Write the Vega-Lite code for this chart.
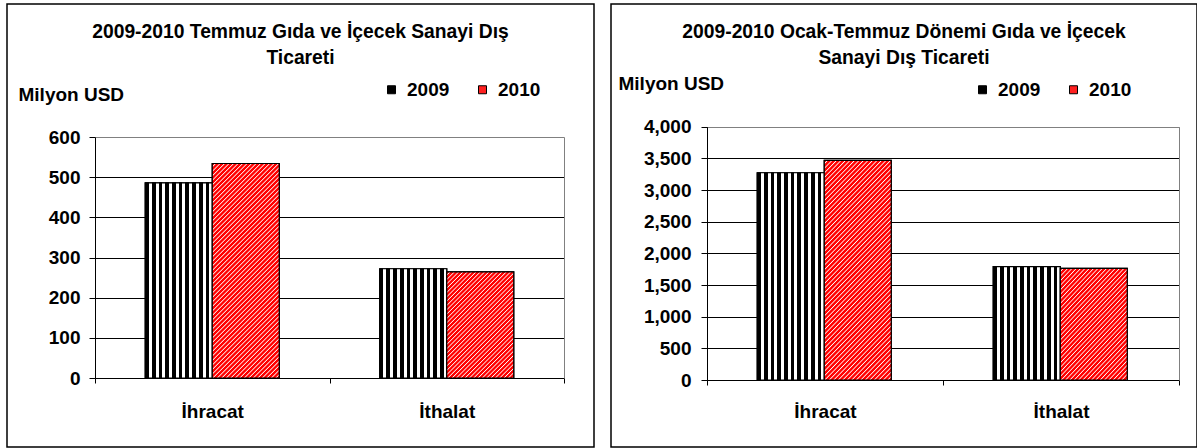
{
  "$schema": "https://vega.github.io/schema/vega-lite/v6.json",
  "padding": {"left": 6, "top": 3, "right": 0, "bottom": 0},
  "background": "white",
  "params": [
    {"name": "gV", "value": {"gradient": "linear", "x1": 0, "y1": 0, "x2": 1, "y2": 0, "stops": [
      {"offset": 0, "color": "#000"}, {"offset": 0.055, "color": "#000"}, {"offset": 0.055, "color": "#fff"}, {"offset": 0.1, "color": "#fff"},
      {"offset": 0.1, "color": "#000"}, {"offset": 0.155, "color": "#000"}, {"offset": 0.155, "color": "#fff"}, {"offset": 0.2, "color": "#fff"},
      {"offset": 0.2, "color": "#000"}, {"offset": 0.255, "color": "#000"}, {"offset": 0.255, "color": "#fff"}, {"offset": 0.3, "color": "#fff"},
      {"offset": 0.3, "color": "#000"}, {"offset": 0.355, "color": "#000"}, {"offset": 0.355, "color": "#fff"}, {"offset": 0.4, "color": "#fff"},
      {"offset": 0.4, "color": "#000"}, {"offset": 0.455, "color": "#000"}, {"offset": 0.455, "color": "#fff"}, {"offset": 0.5, "color": "#fff"},
      {"offset": 0.5, "color": "#000"}, {"offset": 0.555, "color": "#000"}, {"offset": 0.555, "color": "#fff"}, {"offset": 0.6, "color": "#fff"},
      {"offset": 0.6, "color": "#000"}, {"offset": 0.655, "color": "#000"}, {"offset": 0.655, "color": "#fff"}, {"offset": 0.7, "color": "#fff"},
      {"offset": 0.7, "color": "#000"}, {"offset": 0.755, "color": "#000"}, {"offset": 0.755, "color": "#fff"}, {"offset": 0.8, "color": "#fff"},
      {"offset": 0.8, "color": "#000"}, {"offset": 0.855, "color": "#000"}, {"offset": 0.855, "color": "#fff"}, {"offset": 0.9, "color": "#fff"},
      {"offset": 0.9, "color": "#000"}, {"offset": 0.955, "color": "#000"}, {"offset": 0.955, "color": "#fff"}, {"offset": 1, "color": "#fff"}
    ]}},
    {"name": "gT", "value": {"gradient": "linear", "x1": 0, "y1": 0, "x2": 0.3735, "y2": 1.1957, "stops": [
      {"offset": 0, "color": "red"}, {"offset": 0.008, "color": "red"}, {"offset": 0.012, "color": "white"},
      {"offset": 0.016, "color": "red"}, {"offset": 0.024, "color": "red"}, {"offset": 0.028, "color": "white"},
      {"offset": 0.032, "color": "red"}, {"offset": 0.04, "color": "red"}, {"offset": 0.044, "color": "white"},
      {"offset": 0.048, "color": "red"}, {"offset": 0.056, "color": "red"}, {"offset": 0.06, "color": "white"},
      {"offset": 0.064, "color": "red"}, {"offset": 0.072, "color": "red"}, {"offset": 0.076, "color": "white"},
      {"offset": 0.08, "color": "red"}, {"offset": 0.088, "color": "red"}, {"offset": 0.092, "color": "white"},
      {"offset": 0.096, "color": "red"}, {"offset": 0.104, "color": "red"}, {"offset": 0.108, "color": "white"},
      {"offset": 0.112, "color": "red"}, {"offset": 0.12, "color": "red"}, {"offset": 0.124, "color": "white"},
      {"offset": 0.128, "color": "red"}, {"offset": 0.136, "color": "red"}, {"offset": 0.14, "color": "white"},
      {"offset": 0.144, "color": "red"}, {"offset": 0.152, "color": "red"}, {"offset": 0.156, "color": "white"},
      {"offset": 0.16, "color": "red"}, {"offset": 0.168, "color": "red"}, {"offset": 0.172, "color": "white"},
      {"offset": 0.176, "color": "red"}, {"offset": 0.184, "color": "red"}, {"offset": 0.188, "color": "white"},
      {"offset": 0.192, "color": "red"}, {"offset": 0.2, "color": "red"}, {"offset": 0.204, "color": "white"},
      {"offset": 0.208, "color": "red"}, {"offset": 0.216, "color": "red"}, {"offset": 0.22, "color": "white"},
      {"offset": 0.224, "color": "red"}, {"offset": 0.232, "color": "red"}, {"offset": 0.236, "color": "white"},
      {"offset": 0.24, "color": "red"}, {"offset": 0.248, "color": "red"}, {"offset": 0.252, "color": "white"},
      {"offset": 0.256, "color": "red"}, {"offset": 0.264, "color": "red"}, {"offset": 0.268, "color": "white"},
      {"offset": 0.272, "color": "red"}, {"offset": 0.28, "color": "red"}, {"offset": 0.284, "color": "white"},
      {"offset": 0.288, "color": "red"}, {"offset": 0.296, "color": "red"}, {"offset": 0.3, "color": "white"},
      {"offset": 0.304, "color": "red"}, {"offset": 0.312, "color": "red"}, {"offset": 0.316, "color": "white"},
      {"offset": 0.32, "color": "red"}, {"offset": 0.328, "color": "red"}, {"offset": 0.332, "color": "white"},
      {"offset": 0.336, "color": "red"}, {"offset": 0.344, "color": "red"}, {"offset": 0.348, "color": "white"},
      {"offset": 0.352, "color": "red"}, {"offset": 0.36, "color": "red"}, {"offset": 0.364, "color": "white"},
      {"offset": 0.368, "color": "red"}, {"offset": 0.376, "color": "red"}, {"offset": 0.38, "color": "white"},
      {"offset": 0.384, "color": "red"}, {"offset": 0.392, "color": "red"}, {"offset": 0.396, "color": "white"},
      {"offset": 0.4, "color": "red"}, {"offset": 0.408, "color": "red"}, {"offset": 0.412, "color": "white"},
      {"offset": 0.416, "color": "red"}, {"offset": 0.424, "color": "red"}, {"offset": 0.428, "color": "white"},
      {"offset": 0.432, "color": "red"}, {"offset": 0.44, "color": "red"}, {"offset": 0.444, "color": "white"},
      {"offset": 0.448, "color": "red"}, {"offset": 0.456, "color": "red"}, {"offset": 0.46, "color": "white"},
      {"offset": 0.464, "color": "red"}, {"offset": 0.472, "color": "red"}, {"offset": 0.476, "color": "white"},
      {"offset": 0.48, "color": "red"}, {"offset": 0.488, "color": "red"}, {"offset": 0.492, "color": "white"},
      {"offset": 0.496, "color": "red"}, {"offset": 0.504, "color": "red"}, {"offset": 0.508, "color": "white"},
      {"offset": 0.512, "color": "red"}, {"offset": 0.52, "color": "red"}, {"offset": 0.524, "color": "white"},
      {"offset": 0.528, "color": "red"}, {"offset": 0.536, "color": "red"}, {"offset": 0.54, "color": "white"},
      {"offset": 0.544, "color": "red"}, {"offset": 0.552, "color": "red"}, {"offset": 0.556, "color": "white"},
      {"offset": 0.56, "color": "red"}, {"offset": 0.568, "color": "red"}, {"offset": 0.572, "color": "white"},
      {"offset": 0.576, "color": "red"}, {"offset": 0.584, "color": "red"}, {"offset": 0.588, "color": "white"},
      {"offset": 0.592, "color": "red"}, {"offset": 0.6, "color": "red"}, {"offset": 0.604, "color": "white"},
      {"offset": 0.608, "color": "red"}, {"offset": 0.616, "color": "red"}, {"offset": 0.62, "color": "white"},
      {"offset": 0.624, "color": "red"}, {"offset": 0.632, "color": "red"}, {"offset": 0.636, "color": "white"},
      {"offset": 0.64, "color": "red"}, {"offset": 0.648, "color": "red"}, {"offset": 0.652, "color": "white"},
      {"offset": 0.656, "color": "red"}, {"offset": 0.664, "color": "red"}, {"offset": 0.668, "color": "white"},
      {"offset": 0.672, "color": "red"}, {"offset": 0.68, "color": "red"}, {"offset": 0.684, "color": "white"},
      {"offset": 0.688, "color": "red"}, {"offset": 0.696, "color": "red"}, {"offset": 0.7, "color": "white"},
      {"offset": 0.704, "color": "red"}, {"offset": 0.712, "color": "red"}, {"offset": 0.716, "color": "white"},
      {"offset": 0.72, "color": "red"}, {"offset": 0.728, "color": "red"}, {"offset": 0.732, "color": "white"},
      {"offset": 0.736, "color": "red"}, {"offset": 0.744, "color": "red"}, {"offset": 0.748, "color": "white"},
      {"offset": 0.752, "color": "red"}, {"offset": 0.76, "color": "red"}, {"offset": 0.764, "color": "white"},
      {"offset": 0.768, "color": "red"}, {"offset": 0.776, "color": "red"}, {"offset": 0.78, "color": "white"},
      {"offset": 0.784, "color": "red"}, {"offset": 0.792, "color": "red"}, {"offset": 0.796, "color": "white"},
      {"offset": 0.8, "color": "red"}, {"offset": 0.808, "color": "red"}, {"offset": 0.812, "color": "white"},
      {"offset": 0.816, "color": "red"}, {"offset": 0.824, "color": "red"}, {"offset": 0.828, "color": "white"},
      {"offset": 0.832, "color": "red"}, {"offset": 0.84, "color": "red"}, {"offset": 0.844, "color": "white"},
      {"offset": 0.848, "color": "red"}, {"offset": 0.856, "color": "red"}, {"offset": 0.86, "color": "white"},
      {"offset": 0.864, "color": "red"}, {"offset": 0.872, "color": "red"}, {"offset": 0.876, "color": "white"},
      {"offset": 0.88, "color": "red"}, {"offset": 0.888, "color": "red"}, {"offset": 0.892, "color": "white"},
      {"offset": 0.896, "color": "red"}, {"offset": 0.904, "color": "red"}, {"offset": 0.908, "color": "white"},
      {"offset": 0.912, "color": "red"}, {"offset": 0.92, "color": "red"}, {"offset": 0.924, "color": "white"},
      {"offset": 0.928, "color": "red"}, {"offset": 0.936, "color": "red"}, {"offset": 0.94, "color": "white"},
      {"offset": 0.944, "color": "red"}, {"offset": 0.952, "color": "red"}, {"offset": 0.956, "color": "white"},
      {"offset": 0.96, "color": "red"}, {"offset": 0.968, "color": "red"}, {"offset": 0.972, "color": "white"},
      {"offset": 0.976, "color": "red"}, {"offset": 0.984, "color": "red"}, {"offset": 0.988, "color": "white"},
      {"offset": 0.992, "color": "red"}, {"offset": 1, "color": "red"}
    ]}},
    {"name": "gS", "value": {"gradient": "linear", "x1": 0, "y1": 0, "x2": 0.7371, "y2": 1.1662, "stops": [
      {"offset": 0, "color": "red"}, {"offset": 0.0125, "color": "red"}, {"offset": 0.01875, "color": "white"},
      {"offset": 0.025, "color": "red"}, {"offset": 0.0375, "color": "red"}, {"offset": 0.04375, "color": "white"},
      {"offset": 0.05, "color": "red"}, {"offset": 0.0625, "color": "red"}, {"offset": 0.06875, "color": "white"},
      {"offset": 0.075, "color": "red"}, {"offset": 0.0875, "color": "red"}, {"offset": 0.09375, "color": "white"},
      {"offset": 0.1, "color": "red"}, {"offset": 0.1125, "color": "red"}, {"offset": 0.11875, "color": "white"},
      {"offset": 0.125, "color": "red"}, {"offset": 0.1375, "color": "red"}, {"offset": 0.14375, "color": "white"},
      {"offset": 0.15, "color": "red"}, {"offset": 0.1625, "color": "red"}, {"offset": 0.16875, "color": "white"},
      {"offset": 0.175, "color": "red"}, {"offset": 0.1875, "color": "red"}, {"offset": 0.19375, "color": "white"},
      {"offset": 0.2, "color": "red"}, {"offset": 0.2125, "color": "red"}, {"offset": 0.21875, "color": "white"},
      {"offset": 0.225, "color": "red"}, {"offset": 0.2375, "color": "red"}, {"offset": 0.24375, "color": "white"},
      {"offset": 0.25, "color": "red"}, {"offset": 0.2625, "color": "red"}, {"offset": 0.26875, "color": "white"},
      {"offset": 0.275, "color": "red"}, {"offset": 0.2875, "color": "red"}, {"offset": 0.29375, "color": "white"},
      {"offset": 0.3, "color": "red"}, {"offset": 0.3125, "color": "red"}, {"offset": 0.31875, "color": "white"},
      {"offset": 0.325, "color": "red"}, {"offset": 0.3375, "color": "red"}, {"offset": 0.34375, "color": "white"},
      {"offset": 0.35, "color": "red"}, {"offset": 0.3625, "color": "red"}, {"offset": 0.36875, "color": "white"},
      {"offset": 0.375, "color": "red"}, {"offset": 0.3875, "color": "red"}, {"offset": 0.39375, "color": "white"},
      {"offset": 0.4, "color": "red"}, {"offset": 0.4125, "color": "red"}, {"offset": 0.41875, "color": "white"},
      {"offset": 0.425, "color": "red"}, {"offset": 0.4375, "color": "red"}, {"offset": 0.44375, "color": "white"},
      {"offset": 0.45, "color": "red"}, {"offset": 0.4625, "color": "red"}, {"offset": 0.46875, "color": "white"},
      {"offset": 0.475, "color": "red"}, {"offset": 0.4875, "color": "red"}, {"offset": 0.49375, "color": "white"},
      {"offset": 0.5, "color": "red"}, {"offset": 0.5125, "color": "red"}, {"offset": 0.51875, "color": "white"},
      {"offset": 0.525, "color": "red"}, {"offset": 0.5375, "color": "red"}, {"offset": 0.54375, "color": "white"},
      {"offset": 0.55, "color": "red"}, {"offset": 0.5625, "color": "red"}, {"offset": 0.56875, "color": "white"},
      {"offset": 0.575, "color": "red"}, {"offset": 0.5875, "color": "red"}, {"offset": 0.59375, "color": "white"},
      {"offset": 0.6, "color": "red"}, {"offset": 0.6125, "color": "red"}, {"offset": 0.61875, "color": "white"},
      {"offset": 0.625, "color": "red"}, {"offset": 0.6375, "color": "red"}, {"offset": 0.64375, "color": "white"},
      {"offset": 0.65, "color": "red"}, {"offset": 0.6625, "color": "red"}, {"offset": 0.66875, "color": "white"},
      {"offset": 0.675, "color": "red"}, {"offset": 0.6875, "color": "red"}, {"offset": 0.69375, "color": "white"},
      {"offset": 0.7, "color": "red"}, {"offset": 0.7125, "color": "red"}, {"offset": 0.71875, "color": "white"},
      {"offset": 0.725, "color": "red"}, {"offset": 0.7375, "color": "red"}, {"offset": 0.74375, "color": "white"},
      {"offset": 0.75, "color": "red"}, {"offset": 0.7625, "color": "red"}, {"offset": 0.76875, "color": "white"},
      {"offset": 0.775, "color": "red"}, {"offset": 0.7875, "color": "red"}, {"offset": 0.79375, "color": "white"},
      {"offset": 0.8, "color": "red"}, {"offset": 0.8125, "color": "red"}, {"offset": 0.81875, "color": "white"},
      {"offset": 0.825, "color": "red"}, {"offset": 0.8375, "color": "red"}, {"offset": 0.84375, "color": "white"},
      {"offset": 0.85, "color": "red"}, {"offset": 0.8625, "color": "red"}, {"offset": 0.86875, "color": "white"},
      {"offset": 0.875, "color": "red"}, {"offset": 0.8875, "color": "red"}, {"offset": 0.89375, "color": "white"},
      {"offset": 0.9, "color": "red"}, {"offset": 0.9125, "color": "red"}, {"offset": 0.91875, "color": "white"},
      {"offset": 0.925, "color": "red"}, {"offset": 0.9375, "color": "red"}, {"offset": 0.94375, "color": "white"},
      {"offset": 0.95, "color": "red"}, {"offset": 0.9625, "color": "red"}, {"offset": 0.96875, "color": "white"},
      {"offset": 0.975, "color": "red"}, {"offset": 0.9875, "color": "red"}, {"offset": 0.99375, "color": "white"},
      {"offset": 1, "color": "red"}
    ]}}
  ],
  "datasets": {
    "d1": [
      {"cat": "İhracat", "year": "2009", "value": 486},
      {"cat": "İhracat", "year": "2010", "value": 534},
      {"cat": "İthalat", "year": "2009", "value": 272},
      {"cat": "İthalat", "year": "2010", "value": 264}
    ],
    "d2": [
      {"cat": "İhracat", "year": "2009", "value": 3273},
      {"cat": "İhracat", "year": "2010", "value": 3469},
      {"cat": "İthalat", "year": "2009", "value": 1789},
      {"cat": "İthalat", "year": "2010", "value": 1764}
    ]
  },
  "spacing": 15,
  "resolve": {"scale": {"color": "independent"}, "legend": {"color": "independent"}},
  "hconcat": [
    {
      "width": 587,
      "height": 443,
      "data": {"name": "d1"},
      "title": {"text": ["2009-2010 Temmuz Gıda ve İçecek Sanayi Dış", "Ticareti"], "offset": -64, "frame": "group"},
      "resolve": {"axis": {"y": "independent", "x": "independent"}},
      "layer": [
        {
          "mark": {"type": "bar", "stroke": "#000", "strokeWidth": 1.2},
          "encoding": {
            "x": {"field": "cat", "type": "nominal",
              "scale": {"domain": ["İhracat", "İthalat"], "range": [88, 557], "paddingInner": 0, "paddingOuter": 0},
              "axis": {"title": null, "offset": -69, "labelAngle": 0, "tickBand": "extent", "labelBaseline": "alphabetic", "labelPadding": 34, "grid": false}},
            "xOffset": {"field": "year", "type": "nominal", "scale": {"domain": ["2009", "2010"], "paddingInner": 0, "paddingOuter": 0.75}},
            "y": {"field": "value", "type": "quantitative",
              "scale": {"domain": [0, 600], "range": [374, 133], "nice": false, "zero": true},
              "axis": {"values": [0, 100, 200, 300, 400, 500, 600], "format": "d", "offset": -88,
                "title": "Milyon USD", "titleAngle": 0, "titleAlign": "left", "titleBaseline": "middle", "titleX": -77, "titleY": 90,
                "grid": true, "gridColor": {"condition": {"test": "datum.value === 600", "value": "#808080"}, "value": "#000"},
                "tickSize": 6, "labelPadding": 9}},
            "color": {"field": "year", "type": "nominal",
              "scale": {"domain": ["2009", "2010"], "range": ["#000000", "#ff2020"]},
              "legend": {"title": null, "orient": "none", "legendX": 375, "legendY": 76, "direction": "horizontal"}}
          }
        },
        {
          "mark": {"type": "bar", "stroke": "#000", "strokeWidth": 1.2,
            "fill": {"expr": "datum.year == '2009' ? gV : (datum.cat == 'İhracat' ? gT : gS)"}},
          "encoding": {
            "x": {"field": "cat", "type": "nominal", "axis": null},
            "xOffset": {"field": "year", "type": "nominal"},
            "y": {"field": "value", "type": "quantitative",
              "axis": {"orient": "right", "offset": -30, "labels": false, "ticks": false, "grid": false, "title": null, "domainColor": "#808080"}}
          }
        }
      ]
    },
    {
      "width": 586,
      "height": 443,
      "data": {"name": "d2"},
      "title": {"text": ["2009-2010 Ocak-Temmuz Dönemi Gıda ve İçecek", "Sanayi Dış Ticareti"], "offset": -64, "frame": "group"},
      "resolve": {"axis": {"y": "independent", "x": "independent"}},
      "layer": [
        {
          "mark": {"type": "bar", "stroke": "#000", "strokeWidth": 1.2},
          "encoding": {
            "x": {"field": "cat", "type": "nominal",
              "scale": {"domain": ["İhracat", "İthalat"], "range": [96, 568], "paddingInner": 0, "paddingOuter": 0},
              "axis": {"title": null, "offset": -67, "labelAngle": 0, "tickBand": "extent", "labelBaseline": "alphabetic", "labelPadding": 32, "grid": false}},
            "xOffset": {"field": "year", "type": "nominal", "scale": {"domain": ["2009", "2010"], "paddingInner": 0, "paddingOuter": 0.72}},
            "y": {"field": "value", "type": "quantitative",
              "scale": {"domain": [0, 4000], "range": [376, 122.7], "nice": false, "zero": true},
              "axis": {"values": [0, 500, 1000, 1500, 2000, 2500, 3000, 3500, 4000], "format": ",d", "offset": -96,
                "title": "Milyon USD", "titleAngle": 0, "titleAlign": "left", "titleBaseline": "middle", "titleX": -89, "titleY": 79.5,
                "grid": true, "gridColor": {"condition": {"test": "datum.value === 4000", "value": "#808080"}, "value": "#000"},
                "tickSize": 6, "labelPadding": 10}},
            "color": {"field": "year", "type": "nominal",
              "scale": {"domain": ["2009", "2010"], "range": ["#000000", "#ff2020"]},
              "legend": {"title": null, "orient": "none", "legendX": 362, "legendY": 76, "direction": "horizontal"}}
          }
        },
        {
          "mark": {"type": "bar", "stroke": "#000", "strokeWidth": 1.2,
            "fill": {"expr": "datum.year == '2009' ? gV : (datum.cat == 'İhracat' ? gT : gS)"}},
          "encoding": {
            "x": {"field": "cat", "type": "nominal", "axis": null},
            "xOffset": {"field": "year", "type": "nominal"},
            "y": {"field": "value", "type": "quantitative",
              "axis": {"orient": "right", "offset": -18, "labels": false, "ticks": false, "grid": false, "title": null, "domainColor": "#808080"}}
          }
        }
      ]
    }
  ],
  "config": {
    "font": "Liberation Sans",
    "view": {"stroke": "#000", "strokeWidth": 1.5},
    "title": {"font": "Liberation Sans", "fontSize": 19.3, "fontWeight": "bold", "color": "#000", "lineHeight": 26, "baseline": "bottom", "anchor": "middle"},
    "axis": {"labelFont": "Liberation Sans", "labelFontSize": 19, "labelFontWeight": "bold", "labelColor": "#000",
      "titleFont": "Liberation Sans", "titleFontSize": 19, "titleFontWeight": "bold", "titleColor": "#000",
      "domainColor": "#000", "domainWidth": 1, "tickColor": "#000", "tickWidth": 1, "gridWidth": 1, "gridOpacity": 1},
    "legend": {"labelFont": "Liberation Sans", "labelFontSize": 19, "labelFontWeight": "bold", "labelColor": "#000",
      "symbolType": "square", "symbolSize": 64, "symbolStrokeColor": "#000", "symbolStrokeWidth": 1,
      "labelOffset": 6, "columnPadding": 23, "padding": 0}
  }
}
